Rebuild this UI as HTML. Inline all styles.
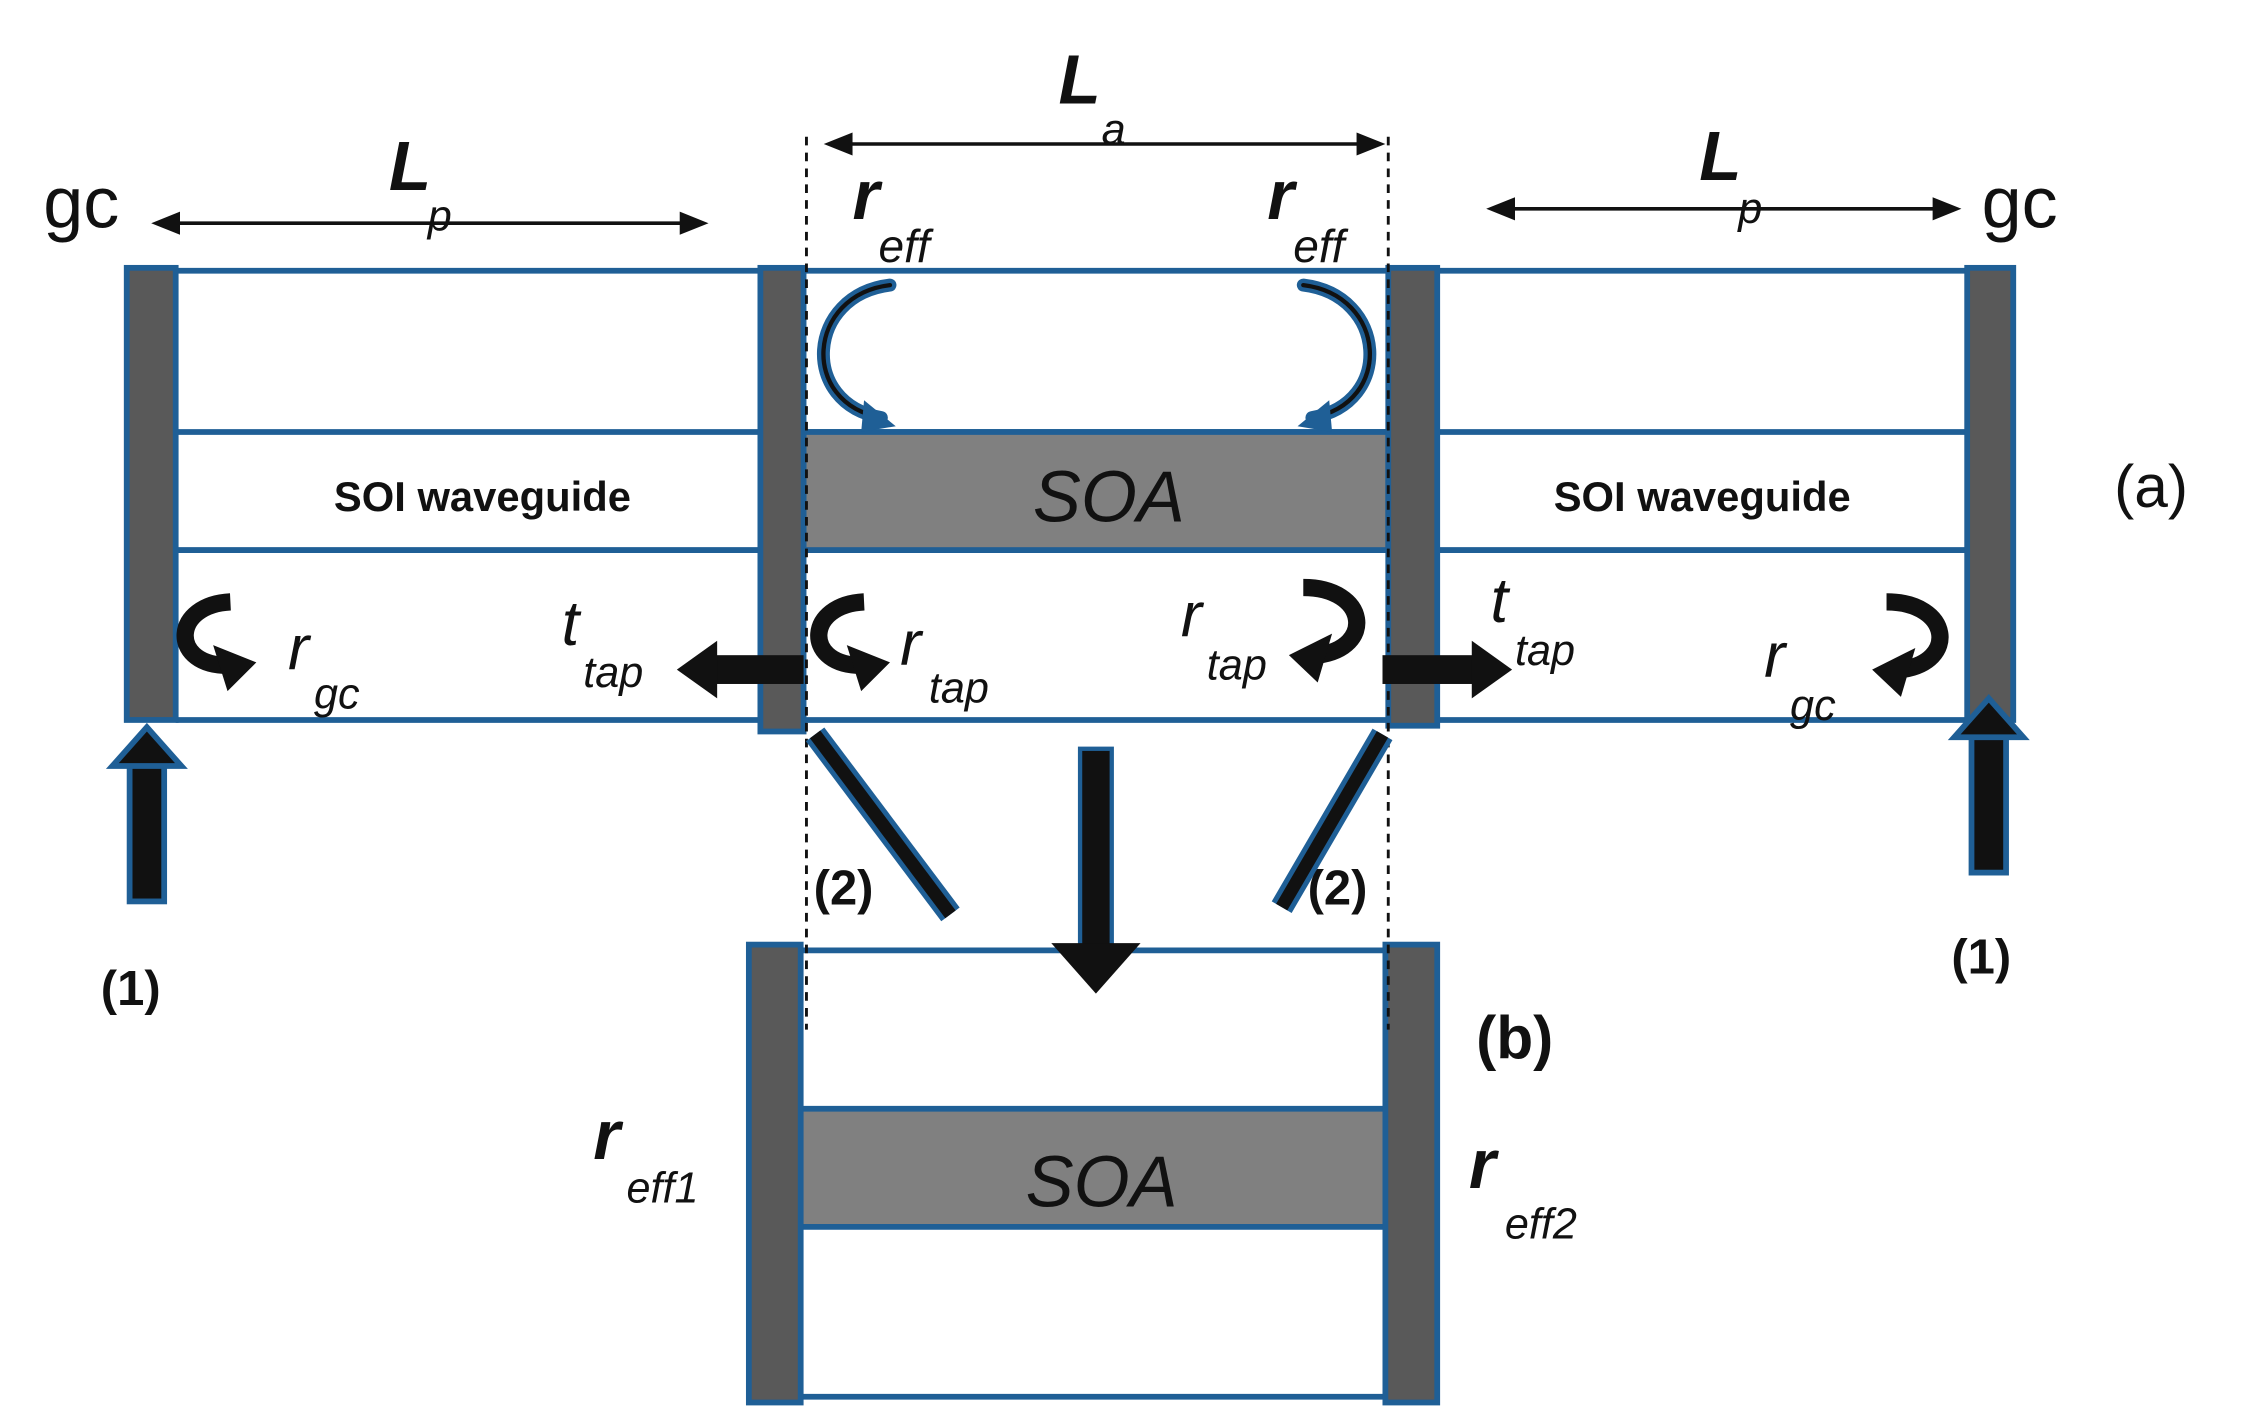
<!DOCTYPE html>
<html><head><meta charset="utf-8"><style>
html,body{margin:0;padding:0;background:#fff;}
svg{display:block;}
text{font-family:"Liberation Sans",sans-serif;fill:#111;}
.it{font-style:italic;}
</style></head><body>
<svg width="2248" height="1428" viewBox="0 0 1561 991.7" preserveAspectRatio="none" xmlns="http://www.w3.org/2000/svg">
<defs>
<marker id="ah" markerWidth="10" markerHeight="10" refX="9" refY="5" orient="auto" markerUnits="userSpaceOnUse"><path d="M0,0 L10,5 L0,10 z" fill="#111"/></marker>
<marker id="ah2" markerWidth="16" markerHeight="16" refX="15" refY="8" orient="auto" markerUnits="userSpaceOnUse"><path d="M0,0 L16,8 L0,16 z" fill="#111"/></marker>
</defs>
<g stroke="#1f5f96" stroke-width="4" fill="none">
<!-- top section horizontal lines -->
<line x1="90" y1="188" x2="1398" y2="188"/>
<line x1="122" y1="300" x2="1366" y2="300"/>
<line x1="122" y1="382" x2="1366" y2="382"/>
<line x1="122" y1="500" x2="1366" y2="500"/>
</g>
<rect x="558" y="300" width="406" height="82" fill="#808080" stroke="#1f5f96" stroke-width="4"/>
<!-- bars -->
<g fill="#595959" stroke="#1f5f96" stroke-width="4">
<rect x="88" y="186" width="34" height="314"/>
<rect x="528" y="186" width="30" height="322"/>
<rect x="964" y="186" width="34" height="318"/>
<rect x="1366" y="186" width="32" height="314"/>
</g>
<!-- bottom (b) -->
<rect x="556" y="770" width="406" height="82" fill="#808080"/>
<g stroke="#1f5f96" stroke-width="4" fill="none">
<line x1="520" y1="660" x2="998" y2="660"/>
<line x1="556" y1="770" x2="962" y2="770"/>
<line x1="556" y1="852" x2="962" y2="852"/>
<line x1="520" y1="970" x2="998" y2="970"/>
</g>
<g fill="#595959" stroke="#1f5f96" stroke-width="4">
<rect x="520" y="656" width="36" height="318"/>
<rect x="962" y="656" width="36" height="318"/>
</g>
<!-- dashed -->
<g stroke="#111" stroke-width="2" stroke-dasharray="6,5">
<line x1="560" y1="95" x2="560" y2="715"/>
<line x1="964" y1="95" x2="964" y2="715"/>
</g>
<!-- dimension arrows -->
<g stroke="#111" stroke-width="2.5" marker-end="url(#ah2)" marker-start="url(#ah2)">
</g>
<g stroke="#111" stroke-width="2.5">
<line x1="590" y1="100" x2="945" y2="100"/>
<line x1="122" y1="155" x2="475" y2="155"/>
<line x1="1050" y1="145" x2="1345" y2="145"/>
</g>
<g fill="#111">
<path d="M572,100 L592,92 L592,108z"/><path d="M962,100 L942,92 L942,108z"/>
<path d="M105,155 L125,147 L125,163z"/><path d="M492,155 L472,147 L472,163z"/>
<path d="M1032,145 L1052,137 L1052,153z"/><path d="M1362,145 L1342,137 L1342,153z"/>
</g>
<!-- blue curved arrows in top SOA cell -->
<g fill="none" stroke-linecap="round">
<path d="M618,198 C560,205 555,280 612,290" stroke="#1f5f96" stroke-width="9"/>
<path d="M618,198 C560,205 555,280 612,290" stroke="#111" stroke-width="3"/>
<path d="M905,198 C963,205 968,280 911,290" stroke="#1f5f96" stroke-width="9"/>
<path d="M905,198 C963,205 968,280 911,290" stroke="#111" stroke-width="3"/>
</g>
<path d="M600,278 L622,296 L598,300z" fill="#1f5f96"/>
<path d="M923,278 L901,296 L925,300z" fill="#1f5f96"/>
<!-- black curved arrows lower cell -->
<g fill="none" stroke="#111" stroke-width="12">
<path d="M160,418 C120,420 118,460 155,462"/>
<path d="M600,418 C560,420 558,460 595,462"/>
<path d="M905,408 C950,408 955,450 915,455"/>
<path d="M1310,418 C1355,418 1360,460 1320,465"/>
</g>
<g fill="#111">
<path d="M148,448 L178,460 L158,480z"/>
<path d="M588,448 L618,460 L598,480z"/>
<path d="M925,440 L895,455 L915,474z"/>
<path d="M1330,450 L1300,465 L1320,484z"/>
</g>
<!-- t_tap arrows -->
<rect x="495" y="455" width="63" height="20" fill="#111"/>
<path d="M470,465 L498,445 L498,485z" fill="#111"/>
<rect x="960" y="455" width="65" height="20" fill="#111"/>
<path d="M1050,465 L1022,445 L1022,485z" fill="#111"/>
<!-- up arrows (1) -->
<rect x="90" y="530" width="24" height="96" fill="#111" stroke="#1f5f96" stroke-width="4"/>
<path d="M102,505 L78,532 L126,532z" fill="#111" stroke="#1f5f96" stroke-width="4"/>
<rect x="1369" y="510" width="24" height="96" fill="#111" stroke="#1f5f96" stroke-width="4"/>
<path d="M1381,485 L1357,512 L1405,512z" fill="#111" stroke="#1f5f96" stroke-width="4"/>
<!-- diagonal arrows (2) -->
<line x1="660" y1="635" x2="566" y2="510" stroke="#1f5f96" stroke-width="16"/>
<line x1="660" y1="635" x2="566" y2="510" stroke="#111" stroke-width="9"/>
<line x1="890" y1="630" x2="960" y2="510" stroke="#1f5f96" stroke-width="16"/>
<line x1="890" y1="630" x2="960" y2="510" stroke="#111" stroke-width="9"/>
<!-- down arrow -->
<rect x="750" y="520" width="22" height="140" fill="#111" stroke="#1f5f96" stroke-width="3"/>
<path d="M761,690 L730,655 L792,655z" fill="#111"/>
<!-- text -->
<text x="30" y="158" font-size="50">gc</text>
<text x="1376" y="158" font-size="50">gc</text>
<text x="270" y="132" font-size="48" font-weight="bold" class="it">L</text>
<text x="297" y="160" font-size="30" class="it">p</text>
<text x="735" y="72" font-size="48" font-weight="bold" class="it">L</text>
<text x="765" y="100" font-size="30" class="it">a</text>
<text x="1180" y="125" font-size="48" font-weight="bold" class="it">L</text>
<text x="1207" y="155" font-size="30" class="it">p</text>
<text x="592" y="152" font-size="48" font-weight="bold" class="it">r</text>
<text x="610" y="182" font-size="32" class="it">eff</text>
<text x="880" y="152" font-size="48" font-weight="bold" class="it">r</text>
<text x="898" y="182" font-size="32" class="it">eff</text>
<text x="335" y="355" font-size="29" font-weight="bold" text-anchor="middle">SOI  waveguide</text>
<text x="1182" y="355" font-size="29" font-weight="bold" text-anchor="middle">SOI  waveguide</text>
<text x="770" y="362" font-size="50" class="it" text-anchor="middle">SOA</text>
<text x="765" y="838" font-size="50" class="it" text-anchor="middle">SOA</text>
<text x="1468" y="352" font-size="42">(a)</text>
<text x="1025" y="735" font-size="42" font-weight="bold">(b)</text>
<text x="200" y="465" font-size="44" class="it">r</text>
<text x="218" y="492" font-size="30" class="it">gc</text>
<text x="390" y="448" font-size="44" class="it">t</text>
<text x="405" y="477" font-size="30" class="it">tap</text>
<text x="625" y="462" font-size="44" class="it">r</text>
<text x="645" y="488" font-size="30" class="it">tap</text>
<text x="820" y="442" font-size="44" class="it">r</text>
<text x="838" y="472" font-size="30" class="it">tap</text>
<text x="1035" y="432" font-size="44" class="it">t</text>
<text x="1052" y="462" font-size="30" class="it">tap</text>
<text x="1225" y="470" font-size="44" class="it">r</text>
<text x="1243" y="500" font-size="30" class="it">gc</text>
<text x="70" y="698" font-size="34" font-weight="bold">(1)</text>
<text x="1355" y="676" font-size="34" font-weight="bold">(1)</text>
<text x="565" y="628" font-size="34" font-weight="bold">(2)</text>
<text x="908" y="628" font-size="34" font-weight="bold">(2)</text>
<text x="412" y="805" font-size="48" font-weight="bold" class="it">r</text>
<text x="435" y="835" font-size="30" class="it">eff1</text>
<text x="1020" y="825" font-size="48" font-weight="bold" class="it">r</text>
<text x="1045" y="860" font-size="30" class="it">eff2</text>
</svg>
</body></html>
